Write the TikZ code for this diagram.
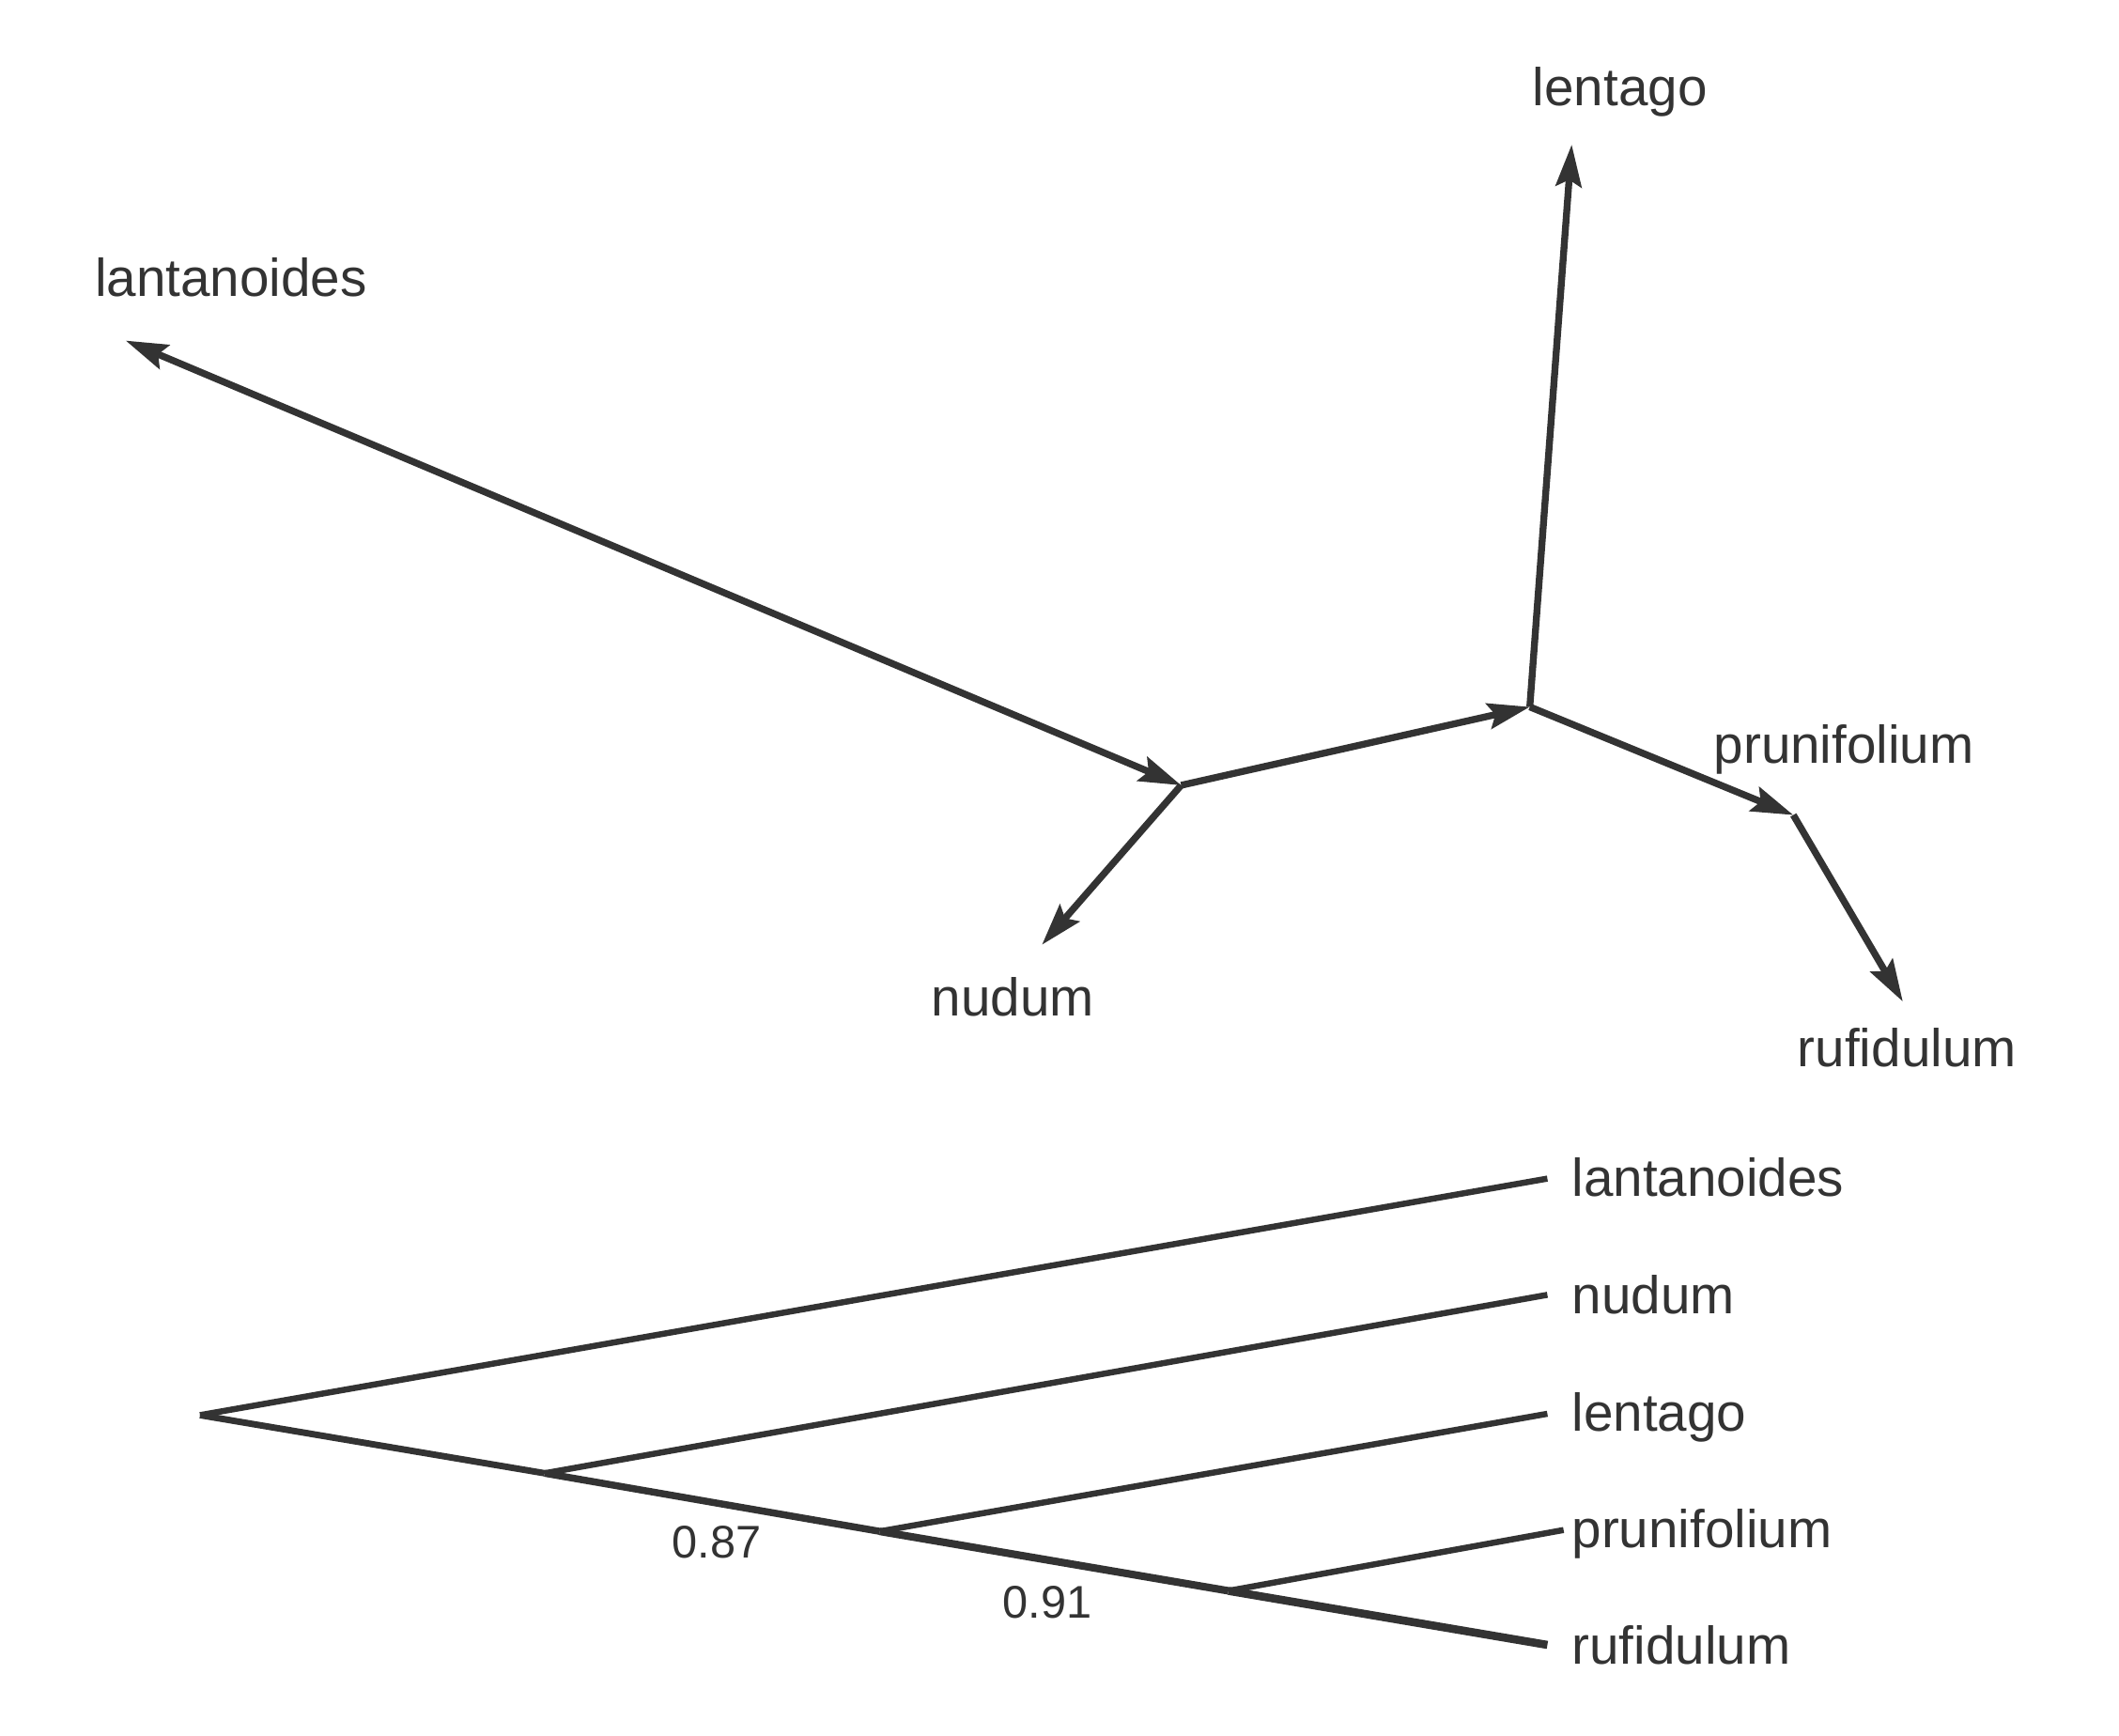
\documentclass[tikz,border=0pt]{standalone}
\usepackage{fontspec}
\setmainfont{Liberation Sans}
\usetikzlibrary{arrows.meta}
\definecolor{ink}{HTML}{333333}
\begin{document}
\begin{tikzpicture}[x=1bp,y=-1bp,
  edge/.style={line width=4.5bp, draw=ink},
  netedge/.style={line width=5.1bp, draw=ink},
  tip/.style={-{Stealth[length=31bp,width=19bp,inset=5bp]}},
  bothtip/.style={{Stealth[length=31bp,width=19bp,inset=5bp]}-{Stealth[length=31bp,width=19bp,inset=5bp]}},
  lbl/.style={font=\fontsize{39.5}{47}\selectfont, text=ink, inner sep=0pt, anchor=base west},
  num/.style={font=\fontsize{34}{40}\selectfont, text=ink, inner sep=0pt, anchor=base west},
]
\useasboundingbox (0,0) rectangle (1568,1284);
% ---- unrooted network ----
\coordinate (A) at (874,581);
\coordinate (B) at (1132,523);
\coordinate (C) at (1327,603);
\coordinate (tLan) at (93,252);
\coordinate (tNud) at (771,699);
\coordinate (tLen) at (1163,107);
\coordinate (tRuf) at (1408,741);
\node[lbl] (Llan) at (70,219) {lantanoides};
\node[lbl] (Llen) at (1134,78) {lentago};
\node[lbl] (Lpru) at (1268,565) {prunifolium};
\node[lbl] (Lnud) at (689,752) {nudum};
\node[lbl] (Lruf) at (1330,789) {rufidulum};
\draw[netedge,bothtip] (tLan) -- (A);
\draw[netedge,tip] (A) -- (tNud);
\draw[netedge,tip] (A) -- (B);
\draw[netedge,tip] (B) -- (tLen);
\draw[netedge,tip] (B) -- (C);
\draw[netedge,tip] (C) -- (tRuf);
% ---- rooted tree ----
\coordinate (R) at (148,1047);
\coordinate (N1) at (403,1090);
\coordinate (N2) at (651,1133);
\coordinate (N3) at (909,1177);
\coordinate (bLan) at (1145,872);
\coordinate (bNud) at (1145,958);
\coordinate (bLen) at (1145,1046);
\coordinate (bPru) at (1157,1132);
\coordinate (bRuf) at (1145,1217);
\draw[edge] (R) -- (bLan);
\draw[edge] (N1) -- (bNud);
\draw[edge] (N2) -- (bLen);
\draw[edge] (N3) -- (bPru);
\draw[edge,line width=4.8bp] (R) -- (N1);
\draw[edge,line width=5.2bp] (N1) -- (N2);
\draw[edge,line width=5.6bp] (N2) -- (N3);
\draw[edge,line width=6.0bp] (N3) -- (bRuf);
\node[lbl] (Blan) at (1163,885) {lantanoides};
\node[lbl] (Bnud) at (1163,972) {nudum};
\node[lbl] (Blen) at (1163,1059) {lentago};
\node[lbl] (Bpru) at (1163,1145) {prunifolium};
\node[lbl] (Bruf) at (1163,1231) {rufidulum};
\node[num] (s87) at (497,1153) {0.87};
\node[num] (s91) at (742,1197) {0.91};
\end{tikzpicture}
\end{document}
